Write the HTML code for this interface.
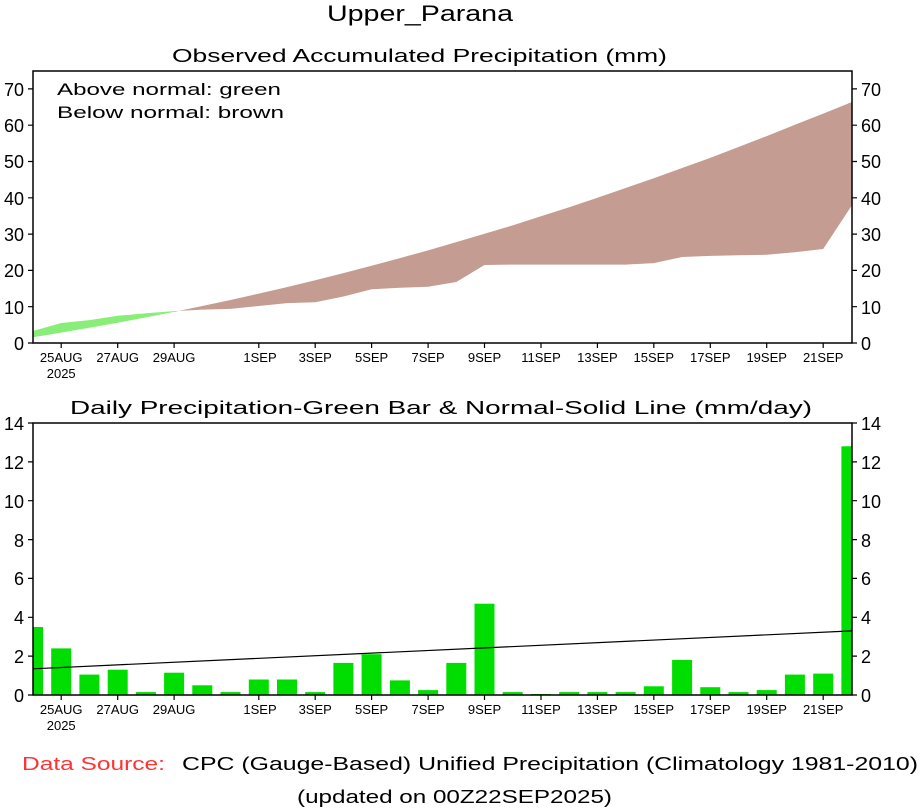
<!DOCTYPE html>
<html><head><meta charset="utf-8"><style>
body{margin:0;background:#fff}
svg{display:block}
text{font-family:"Liberation Sans",sans-serif;fill:#000}
.d{font-size:13px;text-anchor:middle}
.yl{font-size:18px;text-anchor:end}
.yr{font-size:18px}
</style></head><body>
<svg width="922" height="809" viewBox="0 0 922 809" xmlns="http://www.w3.org/2000/svg">
<text x="327" y="21" font-size="22" textLength="186" lengthAdjust="spacingAndGlyphs">Upper_Parana</text>
<text x="172" y="62" font-size="18" textLength="495" lengthAdjust="spacingAndGlyphs">Observed Accumulated Precipitation (mm)</text>
<polygon fill="#88ee77" points="33,331 61.2,323 89.4,320.1 117.7,315.8 145.9,313.2 174.1,311.1 174.1,311.9 145.9,317.4 117.7,322.7 89.4,327.8 61.2,332.6 33,337.2"/>
<polygon fill="#c49c91" points="174.1,311.9 202.3,306 230.5,300 258.8,293.6 287,287.1 315.2,280.2 343.4,273.1 371.6,265.8 399.9,258.1 428.1,250.4 456.3,242.1 484.5,233.7 512.7,225.4 541,216.3 569.2,207.2 597.4,197.8 625.6,188 653.8,178.2 682.1,168 710.3,157.9 738.5,147 766.7,136.1 794.9,124.8 823.2,113.6 852,102 852,205.1 823.2,249 794.9,252.3 766.7,254.8 738.5,255.2 710.3,255.9 682.1,257 653.8,263.1 625.6,264.6 512.7,264.6 484.5,265 456.3,282 428.1,286.7 399.9,287.8 371.6,289.3 343.4,296.5 315.2,302.3 287,303.1 258.8,306 230.5,308.9 202.3,309.6 174.1,311.1"/>
<rect x="33" y="71" width="819" height="272" fill="none" stroke="#000" stroke-width="1.5"/>
<text x="57" y="95" font-size="17" textLength="224" lengthAdjust="spacingAndGlyphs">Above normal: green</text>
<text x="57" y="118" font-size="17" textLength="227" lengthAdjust="spacingAndGlyphs">Below normal: brown</text>
<g stroke="#000" stroke-width="1.2">
<path d="M28,343h5M28,306.7h5M28,270.4h5M28,234.1h5M28,197.8h5M28,161.5h5M28,125.2h5M28,88.9h5"/>
<path d="M852,343h5M852,306.7h5M852,270.4h5M852,234.1h5M852,197.8h5M852,161.5h5M852,125.2h5M852,88.9h5"/>
<path d="M61.2,343v5M117.7,343v5M174.1,343v5M258.8,343v5M315.2,343v5M371.6,343v5M428.1,343v5M484.5,343v5M541,343v5M597.4,343v5M653.8,343v5M710.3,343v5M766.7,343v5M823.2,343v5"/>
</g>
<g class="yl"><text x="24" y="350">0</text><text x="24" y="314">10</text><text x="24" y="277">20</text><text x="24" y="241">30</text><text x="24" y="205">40</text><text x="24" y="168">50</text><text x="24" y="132">60</text><text x="24" y="96">70</text></g>
<g class="yr"><text x="861" y="350">0</text><text x="861" y="314">10</text><text x="861" y="277">20</text><text x="861" y="241">30</text><text x="861" y="205">40</text><text x="861" y="168">50</text><text x="861" y="132">60</text><text x="861" y="96">70</text></g>
<g class="d"><text x="61.2" y="362">25AUG</text><text x="61.2" y="378">2025</text><text x="117.7" y="362">27AUG</text><text x="174.1" y="362">29AUG</text><text x="260" y="362">1SEP</text><text x="315.2" y="362">3SEP</text><text x="371.6" y="362">5SEP</text><text x="428.1" y="362">7SEP</text><text x="484.5" y="362">9SEP</text><text x="541" y="362">11SEP</text><text x="597.4" y="362">13SEP</text><text x="653.8" y="362">15SEP</text><text x="710.3" y="362">17SEP</text><text x="766.7" y="362">19SEP</text><text x="823.2" y="362">21SEP</text></g>

<text x="70" y="414" font-size="18" textLength="742" lengthAdjust="spacingAndGlyphs">Daily Precipitation-Green Bar &amp; Normal-Solid Line (mm/day)</text>
<g fill="#00dd00">
<rect x="33" y="627" width="10" height="68"/>
<rect x="51.2" y="648.4" width="20" height="46.6"/>
<rect x="79.4" y="674.6" width="20" height="20.4"/>
<rect x="107.7" y="669.7" width="20" height="25.3"/>
<rect x="135.9" y="692.1" width="20" height="2.9"/>
<rect x="164.1" y="672.7" width="20" height="22.3"/>
<rect x="192.3" y="685.3" width="20" height="9.7"/>
<rect x="220.5" y="692.1" width="20" height="2.9"/>
<rect x="248.8" y="679.5" width="20" height="15.5"/>
<rect x="277" y="679.5" width="20" height="15.5"/>
<rect x="305.2" y="692.1" width="20" height="2.9"/>
<rect x="333.4" y="662.9" width="20" height="32.1"/>
<rect x="361.6" y="654.2" width="20" height="40.8"/>
<rect x="389.9" y="680.4" width="20" height="14.6"/>
<rect x="418.1" y="690.1" width="20" height="4.9"/>
<rect x="446.3" y="662.9" width="20" height="32.1"/>
<rect x="474.5" y="603.7" width="20" height="91.3"/>
<rect x="502.7" y="692.1" width="20" height="2.9"/>
<rect x="531" y="694" width="20" height="1"/>
<rect x="559.2" y="692.1" width="20" height="2.9"/>
<rect x="587.4" y="692.1" width="20" height="2.9"/>
<rect x="615.6" y="692.1" width="20" height="2.9"/>
<rect x="643.8" y="686.3" width="20" height="8.7"/>
<rect x="672.1" y="660" width="20" height="35"/>
<rect x="700.3" y="687.2" width="20" height="7.8"/>
<rect x="728.5" y="692.1" width="20" height="2.9"/>
<rect x="756.7" y="690.1" width="20" height="4.9"/>
<rect x="784.9" y="674.6" width="20" height="20.4"/>
<rect x="813.2" y="673.6" width="20" height="21.4"/>
<rect x="841.4" y="446.3" width="10.6" height="248.7"/>
</g>
<line x1="33" y1="668.8" x2="852" y2="630.9" stroke="#000" stroke-width="1.2"/>
<rect x="33" y="423" width="819" height="272" fill="none" stroke="#000" stroke-width="1.5"/>
<g stroke="#000" stroke-width="1.2">
<path d="M28,695h5M28,656.1h5M28,617.3h5M28,578.4h5M28,539.6h5M28,500.7h5M28,461.9h5M28,423h5"/>
<path d="M852,695h5M852,656.1h5M852,617.3h5M852,578.4h5M852,539.6h5M852,500.7h5M852,461.9h5M852,423h5"/>
<path d="M61.2,695v5M117.7,695v5M174.1,695v5M258.8,695v5M315.2,695v5M371.6,695v5M428.1,695v5M484.5,695v5M541,695v5M597.4,695v5M653.8,695v5M710.3,695v5M766.7,695v5M823.2,695v5"/>
</g>
<g class="yl"><text x="24" y="702">0</text><text x="24" y="663">2</text><text x="24" y="624">4</text><text x="24" y="585">6</text><text x="24" y="547">8</text><text x="24" y="508">10</text><text x="24" y="469">12</text><text x="24" y="430">14</text></g>
<g class="yr"><text x="861" y="702">0</text><text x="861" y="663">2</text><text x="861" y="624">4</text><text x="861" y="585">6</text><text x="861" y="547">8</text><text x="861" y="508">10</text><text x="861" y="469">12</text><text x="861" y="430">14</text></g>
<g class="d"><text x="61.2" y="714">25AUG</text><text x="61.2" y="730">2025</text><text x="117.7" y="714">27AUG</text><text x="174.1" y="714">29AUG</text><text x="260" y="714">1SEP</text><text x="315.2" y="714">3SEP</text><text x="371.6" y="714">5SEP</text><text x="428.1" y="714">7SEP</text><text x="484.5" y="714">9SEP</text><text x="541" y="714">11SEP</text><text x="597.4" y="714">13SEP</text><text x="653.8" y="714">15SEP</text><text x="710.3" y="714">17SEP</text><text x="766.7" y="714">19SEP</text><text x="823.2" y="714">21SEP</text></g>

<text x="22" y="770" font-size="18" fill="#ff3333" style="fill:#ff3333" textLength="143" lengthAdjust="spacingAndGlyphs">Data Source:</text>
<text x="182" y="770" font-size="18" textLength="736" lengthAdjust="spacingAndGlyphs">CPC (Gauge-Based) Unified Precipitation (Climatology 1981-2010)</text>
<text x="297" y="803" font-size="18" textLength="315" lengthAdjust="spacingAndGlyphs">(updated on 00Z22SEP2025)</text>
</svg>
</body></html>
